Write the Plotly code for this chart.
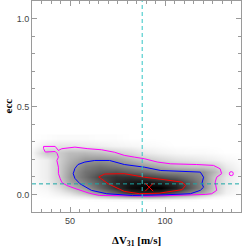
import plotly.graph_objects as go

# ---- density grid (darkness 0..1) ----
dv_grid = [30, 38, 44, 50, 58, 66, 74, 82, 90, 98, 106, 114, 120, 126, 132, 140]
ecc_grid = [-0.03, -0.01, 0.01, 0.04, 0.07, 0.10, 0.13, 0.16, 0.20, 0.24, 0.28, 0.32]
density = [
    [0.00, 0.00, 0.00, 0.00, 0.00, 0.01, 0.02, 0.02, 0.02, 0.02, 0.01, 0.01, 0.00, 0.00, 0.00, 0.00],
    [0.00, 0.01, 0.02, 0.04, 0.08, 0.18, 0.26, 0.34, 0.36, 0.32, 0.24, 0.16, 0.10, 0.04, 0.01, 0.00],
    [0.01, 0.02, 0.06, 0.12, 0.26, 0.44, 0.62, 0.82, 0.85, 0.82, 0.65, 0.46, 0.35, 0.18, 0.05, 0.01],
    [0.01, 0.04, 0.12, 0.25, 0.40, 0.60, 0.80, 0.95, 1.00, 1.00, 0.88, 0.62, 0.45, 0.22, 0.07, 0.02],
    [0.02, 0.06, 0.19, 0.36, 0.50, 0.66, 0.84, 0.90, 0.92, 0.86, 0.79, 0.60, 0.45, 0.22, 0.08, 0.02],
    [0.02, 0.07, 0.20, 0.40, 0.56, 0.72, 0.80, 0.80, 0.74, 0.68, 0.62, 0.52, 0.44, 0.23, 0.09, 0.02],
    [0.02, 0.07, 0.20, 0.38, 0.55, 0.63, 0.66, 0.60, 0.55, 0.48, 0.46, 0.45, 0.42, 0.28, 0.12, 0.03],
    [0.02, 0.07, 0.20, 0.35, 0.50, 0.56, 0.52, 0.46, 0.40, 0.33, 0.26, 0.23, 0.22, 0.20, 0.08, 0.02],
    [0.02, 0.07, 0.19, 0.30, 0.40, 0.42, 0.38, 0.30, 0.21, 0.16, 0.12, 0.10, 0.08, 0.06, 0.03, 0.01],
    [0.03, 0.22, 0.20, 0.26, 0.27, 0.24, 0.19, 0.14, 0.08, 0.05, 0.03, 0.02, 0.02, 0.01, 0.00, 0.00],
    [0.01, 0.08, 0.10, 0.10, 0.08, 0.06, 0.04, 0.03, 0.02, 0.01, 0.00, 0.00, 0.00, 0.00, 0.00, 0.00],
    [0.00, 0.01, 0.02, 0.02, 0.02, 0.01, 0.01, 0.00, 0.00, 0.00, 0.00, 0.00, 0.00, 0.00, 0.00, 0.00],
]

# ---- contour outlines ----
outer_dv = [36.1, 36.1, 42.2, 43.9, 45.7, 52.6, 59.4, 66.5, 73.4, 78.6, 83.9, 89.1, 96.0, 103.0,
            116.7, 125.5, 129.0, 129.8, 127.2, 126.4, 127.2, 124.6, 121.2, 107.3, 91.7, 76.0,
            65.6, 60.4, 55.2, 52.6, 48.3, 45.7, 44.8, 43.9, 43.9, 43.1, 43.9, 43.2, 42.2, 37.0, 36.1]
outer_ecc = [0.260, 0.273, 0.273, 0.250, 0.260, 0.269, 0.260, 0.254, 0.240, 0.222, 0.212, 0.203,
             0.184, 0.174, 0.170, 0.165, 0.146, 0.118, 0.098, 0.070, 0.023, 0.004, 0.000, -0.006,
             -0.010, -0.007, -0.006, 0.006, 0.023, 0.034, 0.051, 0.068, 0.091, 0.119, 0.155,
             0.193, 0.212, 0.233, 0.244, 0.241, 0.260]

mid_dv = [51.7, 52.6, 54.2, 57.8, 63.0, 70.8, 78.6, 89.1, 97.8, 106.4, 118.6, 120.3, 119.4,
          120.3, 118.6, 113.4, 100.5, 82.8, 69.3, 61.3, 55.2, 52.6, 51.7]
mid_ecc = [0.118, 0.148, 0.170, 0.184, 0.193, 0.193, 0.170, 0.155, 0.136, 0.132, 0.127, 0.098,
           0.061, 0.041, 0.023, 0.004, -0.002, -0.006, 0.004, 0.023, 0.061, 0.091, 0.118]

inner_dv = [65.1, 68.2, 78.6, 89.1, 99.5, 109.0, 110.8, 109.0, 96.9, 86.5, 78.6, 70.0, 66.5, 65.1]
inner_ecc = [0.099, 0.116, 0.118, 0.098, 0.084, 0.070, 0.051, 0.027, 0.007, 0.004, 0.017,
             0.061, 0.089, 0.099]

island_dv = [134.9]
island_ecc = [0.118]

best_dv = [91.7]
best_ecc = [0.041]

ref_dv = [88.0]
ref_ecc = [0.06]

x_range = [30, 140]
y_range = [-0.1, 1.1]

fig = go.Figure()

fig.add_trace(go.Heatmap(
    x=dv_grid, y=ecc_grid, z=density, zmin=0, zmax=1, zsmooth="best",
    colorscale=[[0, "rgb(255,255,255)"], [1, "rgb(0,0,0)"]],
    showscale=False, hoverinfo="skip"))

fig.add_trace(go.Scatter(x=outer_dv, y=outer_ecc, mode="lines",
                         line=dict(color="#ff00ff", width=1), showlegend=False))
fig.add_trace(go.Scatter(x=island_dv, y=island_ecc, mode="markers",
                         marker=dict(symbol="circle-open", size=4, color="#ff00ff",
                                     line=dict(width=1, color="#ff00ff")), showlegend=False))
fig.add_trace(go.Scatter(x=mid_dv, y=mid_ecc, mode="lines",
                         line=dict(color="#0000ff", width=1), showlegend=False))
fig.add_trace(go.Scatter(x=inner_dv, y=inner_ecc, mode="lines",
                         line=dict(color="#ff0000", width=1), showlegend=False))

# reference dashed lines
fig.add_trace(go.Scatter(x=[ref_dv[0], ref_dv[0]], y=y_range, mode="lines",
                         line=dict(color="#33c6c6", width=1, dash="4px,3px"), showlegend=False))
fig.add_trace(go.Scatter(x=x_range, y=[ref_ecc[0], ref_ecc[0]], mode="lines",
                         line=dict(color="#1aa8a8", width=1, dash="4px,3px"), showlegend=False))

fig.add_trace(go.Scatter(x=best_dv, y=best_ecc, mode="markers",
                         marker=dict(symbol="x-thin", size=8, color="red",
                                     line=dict(width=1, color="red")), showlegend=False))

axis_common = dict(
    showline=True, linecolor="#9a9a9a", linewidth=1, mirror="ticks",
    ticks="inside", ticklen=5, tickcolor="#9a9a9a", tickwidth=1,
    showgrid=False, zeroline=False, automargin=False,
    tickfont=dict(family="Liberation Sans, Arial", size=9, color="#444444"),
)

title_font = dict(family="Liberation Serif, Times New Roman", size=11, color="black")

fig.update_layout(
    width=245, height=249,
    margin=dict(l=32, r=4, t=1, b=37),
    paper_bgcolor="white", plot_bgcolor="white",
    showlegend=False,
    xaxis=dict(range=x_range, tickvals=[50, 100], ticktext=["50", "100"],
               minor=dict(dtick=5, tick0=0, ticks="inside", ticklen=3, tickcolor="#9a9a9a"),
               **axis_common),
    yaxis=dict(range=y_range, tickvals=[0.0, 0.5, 1.0], ticktext=["0.0", "0.5", "1.0"],
               minor=dict(dtick=0.1, tick0=0, ticks="inside", ticklen=3, tickcolor="#9a9a9a"),
               **axis_common),
    annotations=[
        dict(text="<b>ΔV<sub>31</sub> [m/s]</b>", xref="paper", yref="paper",
             x=0.5, y=0, yshift=-20, xanchor="center", yanchor="top",
             showarrow=False, font=title_font),
        dict(text="<b>ecc</b>", xref="paper", yref="paper",
             x=0, y=0.5, xshift=-33, xanchor="left", yanchor="middle", textangle=-90,
             showarrow=False, font=title_font),
    ],
)

fig.write_html("out.html", config={"displayModeBar": False},
               post_script="document.body.style.margin='0';document.body.style.padding='0';")
